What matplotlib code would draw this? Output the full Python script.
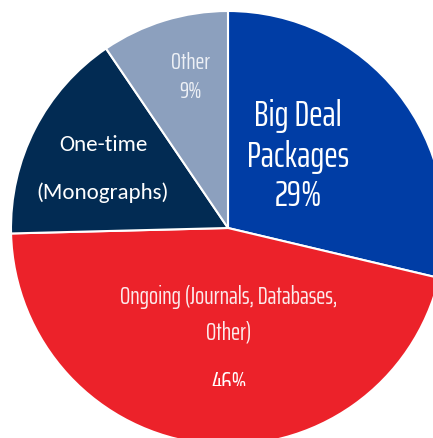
import matplotlib
matplotlib.use('Agg')
import matplotlib.pyplot as plt
from matplotlib.patches import Rectangle

# slice data, clockwise from 12 o'clock
categories = ['Big Deal Packages', 'Ongoing (Journals, Databases, Other)', 'One-time (Monographs)', 'Other']
shares = [28.7, 45.9, 15.9, 9.5]          # measured from the slice angles
share_labels = ['29%', '46%', '16%', '9%']  # as printed on the chart
colours = ['#003DA5', '#EC222A', '#022B53', '#8CA0BE']

narrow = ['Saira ExtraCondensed', 'Saira Condensed', 'DejaVu Sans']
calibri_like = ['Carlito', 'Lato', 'DejaVu Sans']

W, H = 433, 439
cx, cy, r = 228, 229, 217  # pie centre and radius in pixels

fig = plt.figure(figsize=(W / 100, H / 100), dpi=100)
ax = fig.add_axes([0, 0, 1, 1])
ax.pie(shares, colors=colours, startangle=90, counterclock=False, radius=1,
       wedgeprops=dict(edgecolor='white', linewidth=1.5))
# crop the pie like the original slide does
ax.set_xlim(-cx / r, (W - cx) / r)
ax.set_ylim(-(H - cy) / r, cy / r)
ax.set_aspect('auto')
ax.axis('off')

def px(x, y):
    return (x - cx) / r, (cy - y) / r

# Big Deal
for y, s in [(116, 'Big Deal'), (157, 'Packages'), (196, share_labels[0])]:
    ax.text(*px(298, y), s, color='white', fontsize=26, family=narrow, ha='center', va='center')

# Other
ax.text(*px(190, 62), 'Other', color='#EEF1F6', fontsize=17, family=narrow, ha='center', va='center')
ax.text(*px(190, 92), share_labels[3], color='#EEF1F6', fontsize=17, family=narrow, ha='center', va='center')

# One-time
ax.text(*px(103, 145), 'One-time', color='white', fontsize=16.5, family=calibri_like, ha='center', va='center')
ax.text(*px(103, 193), '(Monographs)', color='white', fontsize=16.5, family=calibri_like, ha='center', va='center')

# Ongoing
ax.text(*px(229, 297), 'Ongoing (Journals, Databases,', color='#FCEBEC', fontsize=17.5, family=narrow, ha='center', va='center')
ax.text(*px(229, 333), 'Other)', color='#FCEBEC', fontsize=17.5, family=narrow, ha='center', va='center')
pct = ax.text(*px(229, 384), share_labels[1], color='white', fontsize=19, family=narrow, ha='center', va='center')
# the percentage is half hidden in the source: keep only what is above y=387 px
clip = Rectangle((0, H - 387), W, 387, transform=None)
pct.set_clip_path(clip)
pct.set_clip_on(True)

fig.savefig('out.png', dpi=100)
